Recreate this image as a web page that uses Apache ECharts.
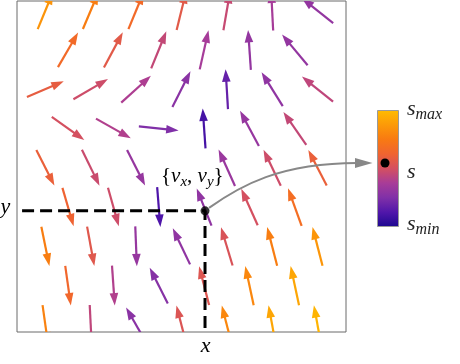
<!DOCTYPE html>
<html>
<head>
<meta charset="utf-8">
<script src="https://cdn.jsdelivr.net/npm/echarts/dist/echarts.min.js"></script>
<style>html,body{margin:0;padding:0;background:#fff}#c{width:460px;height:364px}</style>
</head>
<body>
<div id="c"></div>
<script>
// Hexagonal sample grid (data units): row heights and column positions per row
const rowY = [3.464, 2.598, 1.732, 0.866, 0, -0.866, -1.732, -2.598, -3.464];
const rowX = [
  [-3, -2, -1, 0, 1, 2, 3],
  [-2.5, -1.5, -0.5, 0.5, 1.5, 2.5],
  [-3, -2, -1, 0, 1, 2, 3],
  [-2.5, -1.5, -0.5, 0.5, 1.5, 2.5],
  [-3, -2, -1, 1, 2, 3],
  [-2.5, -1.5, -0.5, 0.5, 1.5, 2.5],
  [-3, -2, -1, 0, 1, 2, 3],
  [-2.5, -1.5, -0.5, 0.5, 1.5, 2.5],
  [-3, -2, -1, 0, 1, 2, 3]
];
// vector directions (v_x, v_y)
const vX = [
  [0.38, 0.39, 0.38, 0.24, 0.17, -0.05, -0.78],
  [0.50, 0.47, 0.38, 0.22, -0.07, -0.64],
  [0.92, 0.86, 0.74, 0.45, -0.06, -0.53, -0.78],
  [0.81, 0.87, 1.00, -0.07, -0.47, -0.57],
  [0.45, 0.44, 0.45, -0.41, -0.43, -0.46],
  [0.28, 0.27, 0.08, -0.37, -0.41, -0.34],
  [0.20, 0.18, 0.04, -0.43, -0.29, -0.25, -0.25],
  [0.14, 0.07, -0.45, -0.25, -0.21, -0.21],
  [0.14, 0.05, -0.50, -0.25, -0.25, -0.18, -0.18]
];
const vY = [
  [0.92, 0.92, 0.92, 0.97, 0.99, 1.00, 0.62],
  [0.86, 0.88, 0.93, 0.98, 1.00, 0.77],
  [0.39, 0.50, 0.67, 0.89, 1.00, 0.85, 0.63],
  [-0.58, -0.49, -0.10, 1.00, 0.88, 0.82],
  [-0.89, -0.90, -0.89, 0.91, 0.90, 0.89],
  [-0.96, -0.96, -1.00, 0.93, 0.91, 0.94],
  [-0.98, -0.98, -1.00, 0.90, 0.96, 0.97, 0.97],
  [-0.99, -1.00, 0.89, 0.97, 0.98, 0.98],
  [-0.99, -1.00, 0.87, 0.97, 0.97, 0.98, 0.98]
];
// speed (normalised 0..1, s_min..s_max)
const speed = [
  [0.85, 0.76, 0.66, 0.56, 0.46, 0.37, 0.31],
  [0.66, 0.56, 0.45, 0.37, 0.31, 0.31],
  [0.58, 0.48, 0.39, 0.28, 0.18, 0.30, 0.44],
  [0.50, 0.40, 0.25, 0.10, 0.32, 0.45],
  [0.60, 0.47, 0.32, 0.33, 0.48, 0.60],
  [0.62, 0.48, 0.12, 0.30, 0.50, 0.68],
  [0.76, 0.55, 0.32, 0.30, 0.52, 0.76, 0.86],
  [0.64, 0.40, 0.27, 0.54, 0.80, 0.92],
  [0.78, 0.44, 0.28, 0.53, 0.80, 0.92, 0.97]
];
const paletteColors = ['#1c0890', '#5016aa', '#8030a8', '#a83c98', '#d45060', '#f06430', '#f87a12', '#fc9a08', '#ffbc00'];
const samplePoint = [0.52, -0.95];
const dashStartX = -3.513;
const xRange = [-3.625, 3.628];
const yRange = [-3.62, 3.675];

const data = [];
rowY.forEach((y, r) => {
  rowX[r].forEach((x, c) => {
    data.push([x, y, vX[r][c], vY[r][c], speed[r][c]]);
  });
});

const chart = echarts.init(document.getElementById('c'), null, {renderer: 'canvas'});
const serif = "'Liberation Serif', 'Times New Roman', serif";

function renderArrow(params, api) {
  const c = api.coord([api.value(0), api.value(1)]);
  let dx = api.value(2), dy = -api.value(3);
  const n = Math.hypot(dx, dy) || 1; dx /= n; dy /= n;
  const L = 40, H = 12.5, W = 4.3;
  const tail = [c[0] - dx * L / 2, c[1] - dy * L / 2];
  const tip = [c[0] + dx * L / 2, c[1] + dy * L / 2];
  const base = [tip[0] - dx * H, tip[1] - dy * H];
  const px = -dy, py = dx;
  const color = api.visual('color');
  return {
    type: 'group',
    children: [
      {type: 'line', shape: {x1: tail[0], y1: tail[1], x2: base[0] + dx, y2: base[1] + dy},
       style: {stroke: color, lineWidth: 2.2}},
      {type: 'polygon', shape: {points: [tip, [base[0] + px * W, base[1] + py * W], [base[0] - px * W, base[1] - py * W]]},
       style: {fill: color}}
    ]
  };
}

chart.setOption({
  animation: false,
  grid: {left: 17, top: 1, width: 329, height: 331, show: true, borderColor: '#6b6b6b', borderWidth: 1, backgroundColor: 'transparent'},
  xAxis: {type: 'value', min: xRange[0], max: xRange[1], show: false},
  yAxis: {type: 'value', min: yRange[0], max: yRange[1], show: false},
  visualMap: {type: 'continuous', show: false, min: 0, max: 1, dimension: 4, seriesIndex: 0, inRange: {color: paletteColors}},
  series: [
    {type: 'custom', data: data, renderItem: renderArrow, clip: true, z: 2},
    {type: 'line', data: [[dashStartX, samplePoint[1]], samplePoint, [samplePoint[0], yRange[0]]], symbol: 'none',
     lineStyle: {color: '#000', width: 3, type: [12, 6]}, z: 3, silent: true},
    {type: 'scatter', data: [samplePoint], symbol: 'circle', symbolSize: 9, itemStyle: {color: '#000'}, z: 4}
  ]
});

const p = chart.convertToPixel({gridIndex: 0}, samplePoint);
const barX = 377.5, barY = 110.5, barW = 21, barH = 116;
const stops = paletteColors.map((col, i) => ({offset: 1 - i / (paletteColors.length - 1), color: col}));

chart.setOption({
  graphic: [
    {type: 'bezierCurve', shape: {x1: p[0] + 4, y1: p[1] - 3, cpx1: p[0] + 35, cpy1: p[1] - 25, cpx2: p[0] + 75, cpy2: p[1] - 48, x2: 358, y2: 163},
     style: {stroke: '#888', lineWidth: 2, fill: null}, z: 10},
    {type: 'polygon', shape: {points: [[372.5, 163], [355, 158], [355, 168]]}, style: {fill: '#888'}, z: 10},
    {type: 'rect', shape: {x: barX, y: barY, width: barW, height: barH},
     style: {fill: {type: 'linear', x: 0, y: 0, x2: 0, y2: 1, colorStops: stops}, stroke: '#9a9a9a', lineWidth: 1}, z: 10},
    {type: 'circle', shape: {cx: 385, cy: 163, r: 4.5}, style: {fill: '#000'}, z: 11},
    {type: 'text', x: 5.5, y: 207, style: {text: 'y', font: 'italic 22px ' + serif, fill: '#000', align: 'center', verticalAlign: 'middle'}, z: 12},
    {type: 'text', x: 205.7, y: 346.6, style: {text: 'x', font: 'italic 22px ' + serif, fill: '#000', align: 'center', verticalAlign: 'middle'}, z: 12},
    {type: 'text', x: 161, y: 176.5, z: 12, style: {
      text: '{' + '{v|v}{sub|x}, {v|v}{sub|y}' + '}',
      fontFamily: serif, fontSize: 21, lineHeight: 26, fill: '#000', align: 'left', verticalAlign: 'middle',
      rich: {
        v: {fontFamily: serif, fontStyle: 'italic', fontSize: 21, lineHeight: 26, verticalAlign: 'middle', fill: '#000'},
        sub: {fontFamily: serif, fontStyle: 'italic', fontSize: 15, lineHeight: 15, verticalAlign: 'bottom', fill: '#000'}
      }}},
    {type: 'text', x: 407, y: 109.3, z: 12, style: {
      text: '{s|s}{sub|max}', align: 'left', verticalAlign: 'middle', fontSize: 22, lineHeight: 26, fontFamily: serif,
      rich: {s: {fontFamily: serif, fontStyle: 'italic', fontSize: 22, lineHeight: 26, verticalAlign: 'middle', fill: '#222'},
             sub: {fontFamily: serif, fontStyle: 'italic', fontSize: 16, lineHeight: 15, verticalAlign: 'bottom', fill: '#222'}}}},
    {type: 'text', x: 407, y: 172.5, z: 12, style: {
      text: '{s|s}', align: 'left', verticalAlign: 'middle', fontSize: 22, lineHeight: 26, fontFamily: serif,
      rich: {s: {fontFamily: serif, fontStyle: 'italic', fontSize: 22, lineHeight: 26, verticalAlign: 'middle', fill: '#222'}}}},
    {type: 'text', x: 407, y: 224.3, z: 12, style: {
      text: '{s|s}{sub|min}', align: 'left', verticalAlign: 'middle', fontSize: 22, lineHeight: 26, fontFamily: serif,
      rich: {s: {fontFamily: serif, fontStyle: 'italic', fontSize: 22, lineHeight: 26, verticalAlign: 'middle', fill: '#222'},
             sub: {fontFamily: serif, fontStyle: 'italic', fontSize: 16, lineHeight: 15, verticalAlign: 'bottom', fill: '#222'}}}}
  ]
});
</script>
</body>
</html>
